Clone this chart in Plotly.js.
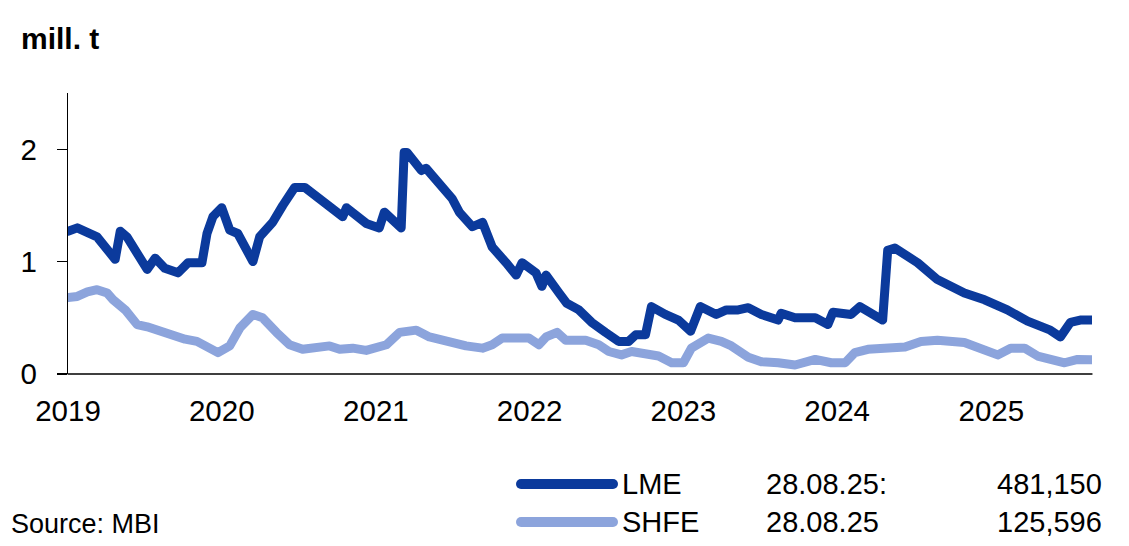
<!DOCTYPE html>
<html>
<head>
<meta charset="utf-8">
<script src="https://cdn.plot.ly/plotly-3.0.1.min.js"></script>
<style>
html,body{margin:0;padding:0;background:#fff;}
#chart{width:1129px;height:546px;}
.scatterlayer .js-line{stroke-linejoin:round;stroke-linecap:round;}
.shapelayer path{stroke-linecap:round;}
</style>
</head>
<body>
<div id="chart"></div>
<script>
// ---- data (mill. t) ----
const lmeDates = ['2019-01-01','2019-01-23','2019-03-11','2019-04-23','2019-05-05','2019-05-21','2019-07-08','2019-07-27','2019-08-19','2019-09-19','2019-10-13','2019-11-15','2019-11-27','2019-12-11','2020-01-01','2020-01-20','2020-02-08','2020-03-15','2020-03-31','2020-04-17','2020-05-01','2020-05-25','2020-06-22','2020-07-16','2020-08-20','2020-09-20','2020-10-14','2020-10-23','2020-12-09','2021-01-09','2021-01-21','2021-03-02','2021-03-09','2021-03-16','2021-04-19','2021-04-30','2021-05-31','2021-07-01','2021-07-18','2021-08-18','2021-09-11','2021-10-04','2021-11-06','2021-11-30','2021-12-14','2022-01-16','2022-01-30','2022-02-09','2022-03-12','2022-03-30','2022-04-28','2022-05-28','2022-06-30','2022-07-31','2022-08-24','2022-09-10','2022-10-03','2022-10-17','2022-11-19','2022-12-20','2023-01-18','2023-02-10','2023-03-20','2023-04-13','2023-05-11','2023-06-04','2023-07-05','2023-08-14','2023-08-21','2023-09-23','2023-11-10','2023-12-10','2023-12-22','2024-01-20','2024-02-03','2024-02-24','2024-03-21','2024-04-18','2024-04-30','2024-05-17','2024-07-10','2024-08-26','2024-10-29','2024-12-16','2025-02-08','2025-03-28','2025-05-21','2025-06-14','2025-07-08','2025-07-31','2025-08-28'];
const lmeValues = [1.27,1.30,1.22,1.02,1.27,1.22,0.93,1.03,0.94,0.90,0.99,0.99,1.25,1.40,1.48,1.28,1.25,1.00,1.22,1.30,1.35,1.50,1.66,1.66,1.55,1.46,1.40,1.48,1.34,1.30,1.44,1.30,1.97,1.97,1.81,1.83,1.70,1.56,1.44,1.31,1.35,1.13,0.99,0.88,0.99,0.90,0.78,0.88,0.72,0.63,0.57,0.46,0.37,0.29,0.29,0.35,0.35,0.60,0.53,0.48,0.38,0.60,0.53,0.57,0.57,0.59,0.53,0.48,0.54,0.50,0.50,0.44,0.55,0.55,0.53,0.60,0.55,0.48,1.10,1.12,0.99,0.84,0.72,0.66,0.57,0.47,0.39,0.33,0.46,0.48,0.481];

const shfeDates = ['2019-01-01','2019-01-23','2019-02-16','2019-03-11','2019-04-04','2019-04-18','2019-05-17','2019-06-14','2019-07-08','2019-08-07','2019-09-07','2019-10-06','2019-11-03','2019-11-27','2019-12-23','2020-01-20','2020-02-13','2020-03-15','2020-04-07','2020-05-10','2020-06-10','2020-07-11','2020-08-20','2020-09-13','2020-10-07','2020-11-07','2020-12-09','2021-01-09','2021-01-26','2021-02-26','2021-04-07','2021-05-08','2021-06-17','2021-08-03','2021-09-11','2021-10-04','2021-10-28','2021-11-30','2021-12-30','2022-01-23','2022-02-09','2022-03-07','2022-03-28','2022-05-14','2022-06-14','2022-07-08','2022-08-07','2022-08-31','2022-10-03','2022-11-03','2022-12-04','2023-01-01','2023-01-20','2023-03-01','2023-04-01','2023-04-25','2023-06-04','2023-07-05','2023-08-14','2023-09-23','2023-11-10','2023-12-18','2024-01-20','2024-02-12','2024-03-14','2024-04-23','2024-06-10','2024-07-18','2024-08-26','2024-10-29','2024-11-29','2025-01-16','2025-02-16','2025-03-21','2025-04-21','2025-06-24','2025-07-25','2025-08-28'];
const shfeValues = [0.68,0.69,0.73,0.75,0.72,0.66,0.57,0.44,0.42,0.38,0.34,0.31,0.29,0.25,0.19,0.25,0.41,0.53,0.50,0.37,0.26,0.22,0.25,0.25,0.22,0.23,0.21,0.24,0.26,0.37,0.39,0.33,0.29,0.25,0.23,0.26,0.32,0.33,0.32,0.26,0.33,0.37,0.30,0.30,0.26,0.20,0.17,0.20,0.18,0.16,0.10,0.10,0.23,0.32,0.29,0.25,0.15,0.11,0.10,0.08,0.13,0.10,0.10,0.19,0.22,0.23,0.24,0.29,0.30,0.28,0.23,0.17,0.23,0.23,0.16,0.10,0.13,0.126];

const seriesNames = ['LME','SHFE'];
const latestDates = ['28.08.25:','28.08.25'];
const latestValues = ['481,150','125,596'];
const yTickVals = [0,1,2];
const yTickText = ['0','1','2'];
const unitLabel = 'mill. t';
const sourceLabel = 'Source: MBI';

// ---- layout helpers ----
const W = 1129, H = 546;
const M = {l:68, r:37, t:93, b:172};
const PW = W - M.l - M.r, PH = H - M.t - M.b;
const px = x => (x - M.l) / PW;
const py = y => (H - M.b - y) / PH;

const colors = ['#0B3A9C','#8CA4DC'];
const font = 'Liberation Sans, Arial, sans-serif';

const traces = [
  {x: shfeDates, y: shfeValues, type:'scatter', mode:'lines', name: seriesNames[1],
   line:{color: colors[1], width: 9}, showlegend:false, hoverinfo:'skip'},
  {x: lmeDates, y: lmeValues, type:'scatter', mode:'lines', name: seriesNames[0],
   line:{color: colors[0], width: 9}, showlegend:false, hoverinfo:'skip'}
];

const rowsY = [484, 522];
const shapes = [];
const annotations = [];
rowsY.forEach((ry, i) => {
  shapes.push({type:'line', xref:'paper', yref:'paper', x0:px(521), x1:px(613), y0:py(ry), y1:py(ry),
    line:{color: colors[i], width: 10}});
  annotations.push({xref:'paper', yref:'paper', x:px(620), y:py(ry), text: seriesNames[i], showarrow:false,
    xanchor:'left', yanchor:'middle', font:{family:font, size:29, color:'#000'}});
  annotations.push({xref:'paper', yref:'paper', x:px(764), y:py(ry), text: latestDates[i], showarrow:false,
    xanchor:'left', yanchor:'middle', font:{family:font, size:29, color:'#000'}});
  annotations.push({xref:'paper', yref:'paper', x:px(1104), y:py(ry), text: latestValues[i], showarrow:false,
    xanchor:'right', yanchor:'middle', font:{family:font, size:29, color:'#000'}});
});
annotations.push({xref:'paper', yref:'paper', x:px(9), y:py(524), text: sourceLabel, showarrow:false,
  xanchor:'left', yanchor:'middle', font:{family:font, size:27, color:'#000'}});
annotations.push({xref:'paper', yref:'paper', x:px(19), y:py(38), text: '<b>'+unitLabel+'</b>', showarrow:false,
  xanchor:'left', yanchor:'middle', font:{family:font, size:30, color:'#000'}});

const layout = {
  width: W, height: H,
  margin: M,
  paper_bgcolor:'#fff', plot_bgcolor:'#fff',
  showlegend:false,
  font:{family:font, color:'#000'},
  xaxis:{
    type:'date', range:['2019-01-01','2025-08-28'],
    tick0:'2019-01-01', dtick:'M12', tickformat:'%Y',
    showgrid:false, zeroline:false, showline:false,
    ticks:'', ticklabelstandoff: 16,
    tickfont:{family:font, size:29.5, color:'#000'}
  },
  yaxis:{
    range:[0,2.5], tickvals: yTickVals, ticktext: yTickText,
    showgrid:false, zeroline:false, showline:true, linecolor:'#000', linewidth:1.3,
    ticks:'outside', ticklen:10, tickwidth:1.3, tickcolor:'#000',
    ticklabelstandoff: 14,
    tickfont:{family:font, size:29.5, color:'#000'}
  },
  shapes: shapes.concat([
    {type:'line', xref:'paper', yref:'paper', x0:0, x1:1, y0:0, y1:0, line:{color:'#000', width:1.3}, layer:'above'}
  ]),
  annotations: annotations
};

Plotly.newPlot('chart', traces, layout, {staticPlot:true, displayModeBar:false});
</script>
</body>
</html>
